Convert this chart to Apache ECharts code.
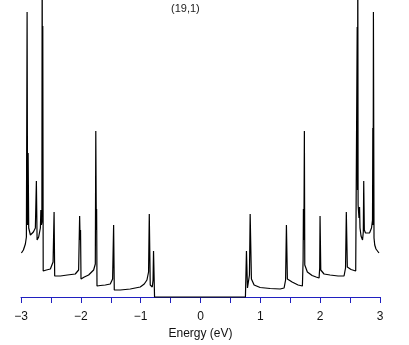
<!DOCTYPE html>
<html>
<head>
<meta charset="utf-8">
<script src="https://cdn.jsdelivr.net/npm/echarts@6/dist/echarts.min.js"></script>
<style>html,body{margin:0;padding:0;background:#fff}#c{width:409px;height:345px}</style>
</head>
<body>
<div id="c"></div>
<script>
// Energy (eV) and density of states (arb. units)
var energy = [
 -2.993,-2.960,-2.927,-2.910,-2.898,-2.890,-2.881,-2.871,-2.843,-2.793,-2.760,-2.743,-2.731,-2.705,-2.676,-2.668,-2.659,-2.651,-2.646,-2.641,-2.636,-2.629,
 -2.576,-2.509,-2.464,-2.447,-2.437,-2.342,-2.225,-2.093,-2.037,-2.020,-2.012,-2.005,-1.997,-1.942,-1.870,-1.786,-1.758,-1.750,-1.741,-1.736,-1.730,
 -1.674,-1.591,-1.508,-1.469,-1.452,-1.441,-1.341,-1.174,-1.007,-0.940,-0.895,-0.868,-0.856,-0.840,-0.806,-0.793,-0.785,-0.768,
 0.751,0.768,0.785,0.805,0.818,0.830,0.851,0.896,0.997,1.164,1.331,1.397,1.422,1.436,1.452,1.531,1.631,1.703,1.715,1.720,1.728,1.736,1.743,
 1.786,1.865,1.932,1.982,1.992,1.998,2.010,2.065,2.165,2.299,2.399,2.424,2.437,2.454,2.516,2.594,2.619,2.624,2.629,2.634,2.649,2.658,2.666,
 2.683,2.708,2.721,2.728,2.738,2.758,2.788,2.825,2.858,2.875,2.880,2.885,2.890,2.900,2.912,2.933,2.955,2.983
];
var dos = [
 0.44,0.47,0.53,0.60,2.85,0.72,1.44,0.69,0.62,0.65,0.69,1.16,0.57,0.60,0.69,0.87,0.72,0.75,3.50,0.97,2.71,0.26,
 0.27,0.28,0.35,0.85,0.21,0.21,0.22,0.23,0.27,0.81,0.57,0.67,0.18,0.20,0.22,0.27,0.33,1.66,0.67,0.88,0.11,
 0.115,0.12,0.13,0.18,0.72,0.07,0.07,0.08,0.10,0.13,0.17,0.25,0.83,0.12,0.10,0.17,0.46,0.00,
 0.00,0.46,0.09,0.10,0.22,0.83,0.18,0.12,0.095,0.085,0.08,0.09,0.17,0.72,0.18,0.15,0.12,0.11,0.37,0.88,0.57,1.66,0.32,
 0.25,0.215,0.20,0.19,0.29,0.81,0.27,0.23,0.22,0.21,0.21,0.29,0.85,0.30,0.275,0.26,2.70,1.07,3.50,0.92,0.79,0.90,0.69,
 0.61,0.57,0.65,1.16,0.67,0.64,0.62,0.64,0.69,0.77,1.69,0.72,2.85,0.59,0.52,0.48,0.47,0.44
];
var titleText = '(19,1)';
var xName = 'Energy (eV)';

var pts = energy.map(function(e, i){ return [e, dos[i]]; });
var chart = echarts.init(document.getElementById('c'), null, {renderer:'canvas'});
chart.setOption({
  animation: false,
  backgroundColor: '#fff',
  title: {text: titleText, left: 171, top: 3, padding: 0, textStyle: {fontSize: 11, fontWeight: 'normal', color: '#222', fontFamily: 'Liberation Sans'}},
  grid: {left: 21, right: 29, top: 0, bottom: 45},
  xAxis: {
    type: 'value', min: -3, max: 3, interval: 0.5,
    name: xName, nameLocation: 'middle', nameGap: 25,
    nameTextStyle: {fontSize: 12, color: '#111', fontFamily: 'Liberation Sans'},
    axisLine: {lineStyle: {color: '#2020c0', width: 1}},
    axisTick: {show: true, length: 6, lineStyle: {color: '#2020c0'}},
    axisLabel: {margin: 11, fontSize: 12, color: '#111', fontFamily: 'Liberation Sans',
      formatter: function(v){ if (Math.abs(v - Math.round(v)) > 1e-6) return ''; return v < 0 ? '\u2212' + Math.abs(v) : String(v); }},
    splitLine: {show: false}
  },
  yAxis: {type: 'value', min: -0.03, max: 2.97, show: false, splitLine: {show: false}},
  series: [{
    type: 'line', data: pts, showSymbol: false, symbol: 'none', clip: true,
    lineStyle: {color: '#000', width: 1.2}
  }]
});
</script>
</body>
</html>
